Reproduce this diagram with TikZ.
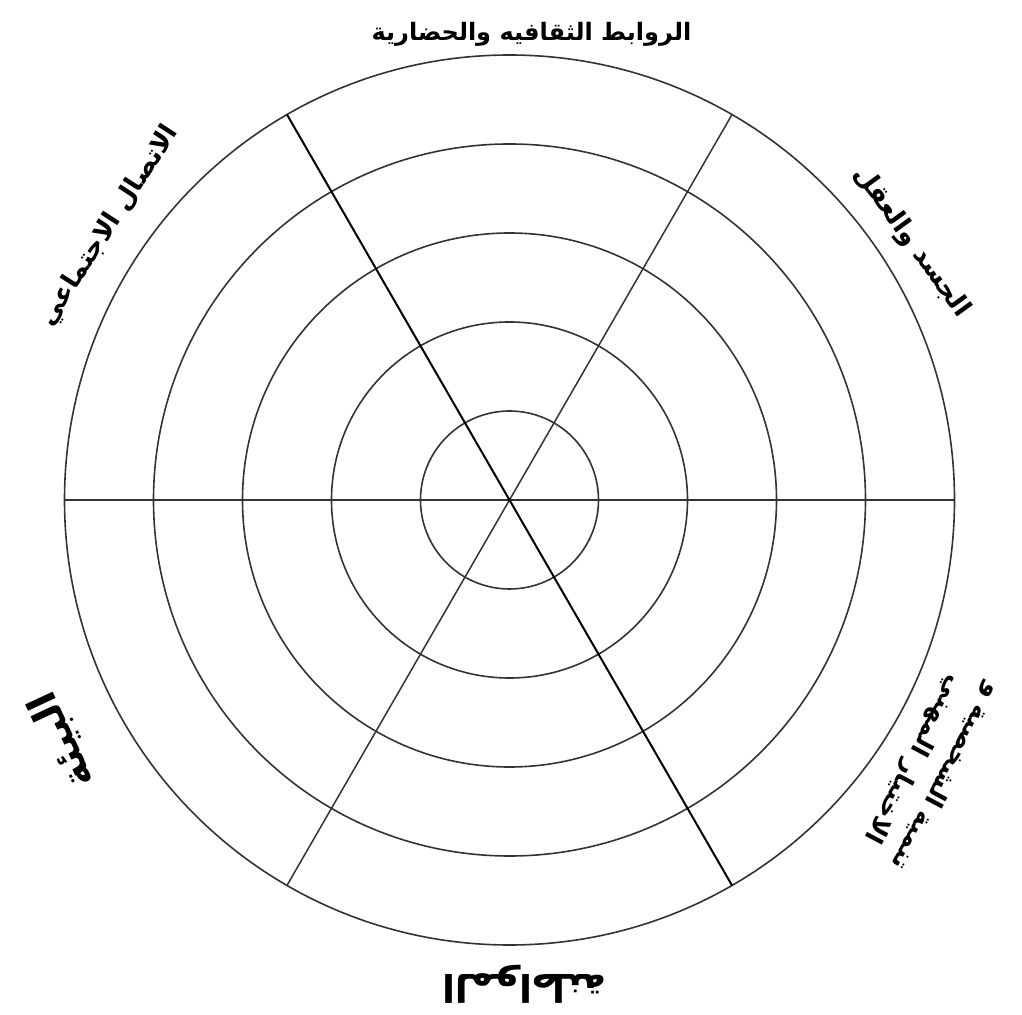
\documentclass[tikz,border=0pt]{standalone}
\usepackage{fontspec}
\TeXXeTstate=1
\newfontfamily\arabicfont[Script=Arabic]{DejaVu Sans}
\begin{document}
\begin{tikzpicture}[x=1pt,y=1pt,
  ring/.style={draw=black!80, line width=1.6pt},
  spoke/.style={draw=black!80, line width=1.5pt},
  mainspoke/.style={draw=black, line width=2pt},
  lbl/.style={font=\arabicfont\bfseries\fontsize{26}{34}\selectfont, inner sep=0pt, align=center}]
\useasboundingbox (-509.5,-514) rectangle (512.5,500);
\coordinate (c) at (0,0);
\foreach \a [count=\i] in {0,60,120,180,240,300} {
  \coordinate (p\i) at (\a:445);
}
% rings
\foreach \r in {89,178,267,356,445} {
  \draw[ring] (c) circle[radius=\r];
}
% spokes
\draw[spoke] (p1) -- (p4);
\draw[spoke] (p2) -- (p5);
\draw[mainspoke] (p3) -- (p6);
% labels
\node[lbl, font=\arabicfont\bfseries\fontsize{24}{30}\selectfont] (top) at (22,466) {\beginR الروابط الثقافيه والحضارية\endR};
\node[lbl, rotate=57] (ul) at (-400,274) {\beginR الاتصال الاجتماعي\endR};
\node[lbl, rotate=-54] (ur) at (402,258) {\beginR الجسد والعقل\endR};
\node[lbl, rotate=-118, font=\arabicfont\bfseries\fontsize{25}{36}\selectfont] (lr) at (420,-268) {\beginR تنمية الشخصية و\endR\\\beginR الاختيار المهني\endR};
\node[lbl, rotate=115, font=\arabicfont\bfseries\fontsize{40}{46}\selectfont] (ll) at (-447,-240) {\beginR البيئة\endR};
\node[lbl, rotate=180, font=\arabicfont\bfseries\fontsize{38}{44}\selectfont] (bot) at (15,-484) {\beginR المواطنة\endR};
\end{tikzpicture}
\end{document}
